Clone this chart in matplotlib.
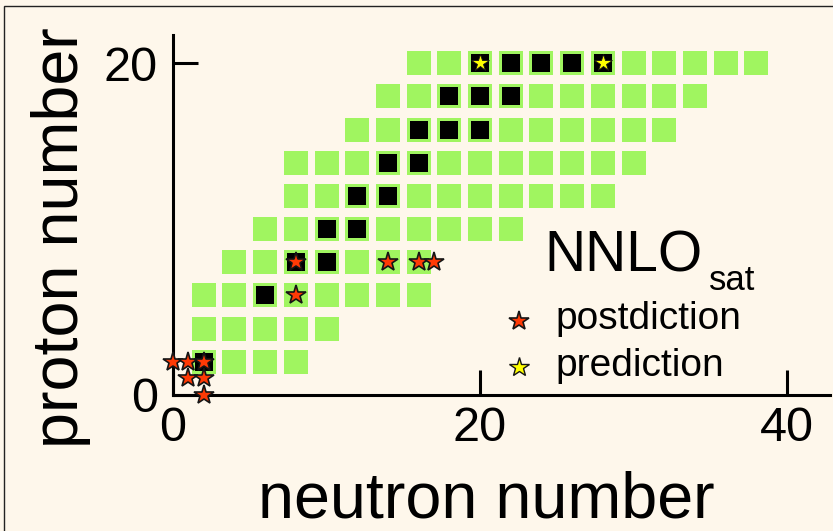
import matplotlib
matplotlib.use("Agg")
import matplotlib.pyplot as plt
from matplotlib.patches import Rectangle

plt.rcParams['font.family'] = ['Liberation Sans', 'DejaVu Sans']

# ---- data (N = neutron number, Z = proton number) ----
row_Z2 = [2, 4, 6, 8]
row_Z4 = [2, 4, 6, 8, 10]
row_Z6 = [2, 4, 6, 8, 10, 12, 14, 16]
row_Z8 = [4, 6, 8, 10, 12, 14, 16]
row_Z10 = [6, 8, 10, 12, 14, 16, 18, 20, 22]
row_Z12 = [8, 10, 12, 14, 16, 18, 20, 22, 24, 26, 28]
row_Z14 = [8, 10, 12, 14, 16, 18, 20, 22, 24, 26, 28, 30]
row_Z16 = [12, 14, 16, 18, 20, 22, 24, 26, 28, 30, 32]
row_Z18 = [14, 16, 18, 20, 22, 24, 26, 28, 30, 32, 34]
row_Z20 = [16, 18, 20, 22, 24, 26, 28, 30, 32, 34, 36, 38]
row_Z = [2, 4, 6, 8, 10, 12, 14, 16, 18, 20]
rows_N = [row_Z2, row_Z4, row_Z6, row_Z8, row_Z10,
          row_Z12, row_Z14, row_Z16, row_Z18, row_Z20]

black_N = [2, 6, 8, 10, 10, 12, 12, 14, 14, 16, 16, 18, 20, 18, 20, 22, 20, 22, 24, 26, 28]
black_Z = [2, 6, 8, 8, 10, 10, 12, 12, 14, 14, 16, 16, 16, 18, 18, 18, 20, 20, 20, 20, 20]

post_N = [0, 1, 2, 1, 2, 2, 8, 8, 14, 16, 17]
post_Z = [2, 2, 2, 1, 1, 0, 6, 8, 8, 8, 8]

pred_N = [20, 28]
pred_Z = [20, 20]

x_ticks = [0, 20, 40]
y_ticks = [0, 20]

# ---- style ----
bg = '#FEF7EB'
green = '#A0F560'
red = '#FF3A05'
yellow = '#FFFF00'

W, H = 833, 531
fig = plt.figure(figsize=(W / 100, H / 100), dpi=100, facecolor=bg)

# thin frame around the figure
fig.add_artist(Rectangle((4 / W, -0.1), 1.2, 1 - 6 / H + 0.1, transform=fig.transFigure,
                         fill=False, edgecolor='#222222', linewidth=1.0))

ax = fig.add_axes([173 / W, 1 - 395 / H, (830 - 173) / W, (395 - 35) / H])
ax.set_facecolor(bg)
ax.set_xlim(0, 42.8)
ax.set_ylim(0, 21.7)

gN, gZ = [], []
for z, ns in zip(row_Z, rows_N):
    for n in ns:
        gN.append(n)
        gZ.append(z)

ax.plot(gN, gZ, 's', ms=16.6, color=green, mew=0, linestyle='none', zorder=2)
ax.plot(black_N, black_Z, 's', ms=12.8, color='black', mew=0, linestyle='none', zorder=3)
ax.plot(post_N, post_Z, '*', ms=14.5, mfc=red, mec='#151515', mew=1.2,
        linestyle='none', zorder=5, clip_on=False)
ax.plot(pred_N, pred_Z, '*', ms=13, mfc=yellow, mec='#151515', mew=0.6,
        linestyle='none', zorder=5, clip_on=False)

for s in ['top', 'right']:
    ax.spines[s].set_visible(False)
for s in ['left', 'bottom']:
    ax.spines[s].set_linewidth(2.2)
    ax.spines[s].set_zorder(4)

ax.set_xticks(x_ticks)
ax.set_yticks(y_ticks)
ax.tick_params(direction='in', length=18, width=2.2, labelsize=35)
ax.tick_params(axis='x', pad=8)
ax.tick_params(axis='y', pad=11)

# axis labels
fig.text(486 / W, 1 - 517 / H, 'neutron number', fontsize=46.5,
         ha='center', va='baseline')
fig.text(78 / W, 1 - 238 / H, 'proton number', fontsize=46.5, rotation=90,
         rotation_mode='anchor', ha='center', va='baseline')

# annotation
fig.text(544 / W, 1 - 272 / H, 'NNLO', fontsize=41, ha='left', va='baseline')
fig.text(709 / W, 1 - 290 / H, 'sat', fontsize=25, ha='left', va='baseline')

# legend
fig.add_artist(plt.Line2D([519 / W], [1 - 321 / H], marker='*', ms=14.5, mfc=red,
                          mec='#151515', mew=1.2, linestyle='none',
                          transform=fig.transFigure))
fig.add_artist(plt.Line2D([519 / W], [1 - 367 / H], marker='*', ms=14.5, mfc=yellow,
                          mec='#151515', mew=1.0, linestyle='none',
                          transform=fig.transFigure))
fig.text(555 / W, 1 - 329 / H, 'postdiction', fontsize=28, ha='left', va='baseline')
fig.text(555 / W, 1 - 376 / H, 'prediction', fontsize=28, ha='left', va='baseline')

fig.savefig('out.png', dpi=100, facecolor=bg)
